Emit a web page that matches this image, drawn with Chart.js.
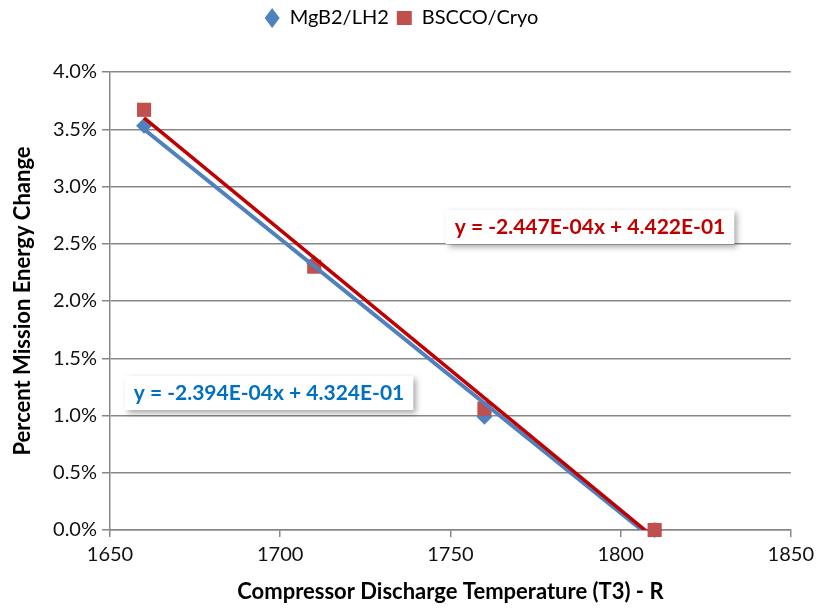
<!DOCTYPE html>
<html>
<head>
<meta charset="utf-8">
<script src="https://cdn.jsdelivr.net/npm/chart.js@4/dist/chart.umd.min.js"></script>
<style>
  html, body { margin: 0; padding: 0; background: #fff; }
  #wrap { width: 820px; height: 613px; }
</style>
</head>
<body>
<div id="wrap"><canvas id="c" width="820" height="613"></canvas></div>
<script>
'use strict';

// values (percent)
const temps = [1660, 1710, 1760, 1810];
const mgb2Values = [3.53, 2.33, 0.99, 0.0];
const bsccoValues = [3.67, 2.30, 1.06, 0.0];

const trendX = [1660, 1810];
const mgb2Trend = [3.50, -0.09];
const bsccoTrend = [3.60, -0.07];

const mgb2Eq = 'y = -2.394E-04x + 4.324E-01';
const bsccoEq = 'y = -2.447E-04x + 4.422E-01';

const xTicks = [1650, 1700, 1750, 1800, 1850];
const yTicks = [0, 0.5, 1.0, 1.5, 2.0, 2.5, 3.0, 3.5, 4.0];

const BLUE = '#4f81bd';
const RED_MARK = '#c0504d';
const RED_LINE = '#c00000';
const GRID = '#878787';
const FONT = 'Lato, "Open Sans", sans-serif';

function pts(xs, ys) {
    return xs.map((x, i) => ({ x: x, y: ys[i] }));
}

// extra gap between the legend and the plot area
const legendGap = {
    id: 'legendGap',
    afterInit(chart) {
        const legend = chart.legend;
        const fit = legend.fit;
        legend.fit = function () {
            fit.call(this);
            this.height += 34;
        };
    },
};

// equation boxes with a soft drop shadow, like Excel trendline labels
const eqLabels = {
    id: 'eqLabels',
    afterDatasetsDraw(chart) {
        const ctx = chart.ctx;
        const items = [
            { text: bsccoEq, color: RED_LINE, cx: 590, cy: 227 },
            { text: mgb2Eq, color: '#0070c0', cx: 269, cy: 393 },
        ];
        ctx.save();
        ctx.font = 'bold 21px ' + FONT;
        items.forEach(it => {
            const w = ctx.measureText(it.text).width + 18;
            const h = 34;
            ctx.save();
            ctx.shadowColor = 'rgba(0,0,0,0.35)';
            ctx.shadowBlur = 6;
            ctx.shadowOffsetX = 3;
            ctx.shadowOffsetY = 3;
            ctx.fillStyle = '#fff';
            ctx.fillRect(it.cx - w / 2, it.cy - h / 2, w, h);
            ctx.restore();
            ctx.fillStyle = it.color;
            ctx.textAlign = 'center';
            ctx.textBaseline = 'middle';
            ctx.fillText(it.text, it.cx, it.cy);
        });
        ctx.restore();
    },
};

new Chart(document.getElementById('c'), {
    type: 'scatter',
    data: {
        datasets: [
            {
                label: 'trend BSCCO',
                type: 'line',
                data: pts(trendX, bsccoTrend),
                borderColor: RED_LINE,
                borderWidth: 3.5,
                pointRadius: 0,
                order: 0,
            },
            {
                label: 'trend MgB2',
                type: 'line',
                data: pts(trendX, mgb2Trend),
                borderColor: BLUE,
                borderWidth: 4,
                pointRadius: 0,
                order: 1,
            },
            {
                label: 'MgB2/LH2',
                data: pts(temps, mgb2Values),
                pointStyle: 'rectRot',
                pointRadius: 8,
                backgroundColor: BLUE,
                borderColor: BLUE,
                borderWidth: 0,
                clip: false,
                order: 3,
            },
            {
                label: 'BSCCO/Cryo',
                data: pts(temps, bsccoValues),
                pointStyle: 'rect',
                pointRadius: 10,
                backgroundColor: RED_MARK,
                borderColor: RED_MARK,
                borderWidth: 0,
                clip: false,
                order: 2,
            },
        ],
    },
    options: {
        responsive: false,
        animation: false,
        layout: { padding: { left: 6, right: 23, top: 0, bottom: 4 } },
        plugins: {
            tooltip: { enabled: false },
            legend: {
                position: 'top',
                labels: {
                    filter: item => !item.text.startsWith('trend'),
                    sort: (a, b) => a.datasetIndex - b.datasetIndex,
                    usePointStyle: true,
                    pointStyleWidth: 15,
                    boxHeight: 14,
                    color: '#000',
                    font: { family: FONT, size: 20 },
                    padding: 8,
                },
            },
        },
        scales: {
            x: {
                type: 'linear',
                min: 1650,
                max: 1850,
                afterBuildTicks: s => { s.ticks = xTicks.map(v => ({ value: v })); },
                grid: { display: true, drawOnChartArea: false, tickLength: 7, color: GRID, lineWidth: 1.5 },
                border: { color: GRID, width: 1.5 },
                ticks: {
                    color: '#111',
                    font: { family: FONT, size: 20 },
                    padding: 6,
                    callback: v => String(v),
                },
                title: {
                    display: true,
                    text: 'Compressor Discharge Temperature (T3) - R',
                    color: '#000',
                    font: { family: FONT, size: 22, weight: 'bold' },
                    padding: { top: 14 },
                },
                afterFit: s => { s.height = 79; },
            },
            y: {
                min: 0,
                max: 4,
                afterBuildTicks: s => { s.ticks = yTicks.map(v => ({ value: v })); },
                grid: { color: GRID, lineWidth: 1.5, tickLength: 8 },
                border: { color: GRID, width: 1.5 },
                ticks: {
                    color: '#111',
                    font: { family: FONT, size: 20 },
                    padding: 5,
                    callback: v => v.toFixed(1) + '%',
                },
                title: {
                    display: true,
                    text: 'Percent Mission Energy Change',
                    color: '#000',
                    font: { family: FONT, size: 22, weight: 'bold' },
                    padding: { bottom: 2 },
                },
                afterFit: s => { s.width = 104; },
            },
        },
    },
    plugins: [legendGap, eqLabels],
});
</script>
</body>
</html>
